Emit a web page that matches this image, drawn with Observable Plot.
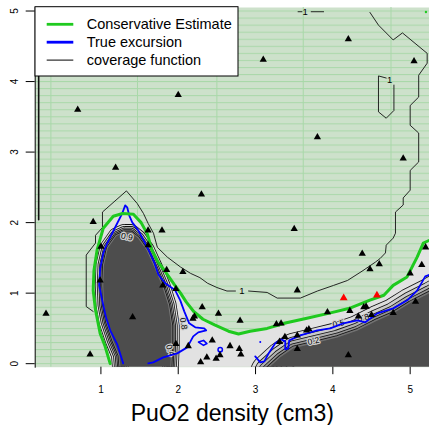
<!DOCTYPE html>
<html><head><meta charset="utf-8">
<script src="https://cdn.jsdelivr.net/npm/d3@7"></script>
<script src="https://cdn.jsdelivr.net/npm/@observablehq/plot@0.6"></script>
<style>
html,body{margin:0;padding:0;background:#fff;}
#chart{position:relative;width:429px;height:425px;overflow:hidden;}
</style></head><body><div id="chart"></div>
<script>
// ---------- data (data units) ----------
const xTicks = [1, 2, 3, 4, 5];
const yTicks = [0, 1, 2, 3, 4, 5];
const xDomain = [0.15, 5.25];
const yDomain = [-0.05, 5.05];
const xLabel = "PuO2 density (cm3)";
const legendLabels = ["Conservative Estimate", "True excursion", "coverage function"];

// vertical seams of the conservative-estimate overlay
const seamX = [0.353, 1.473, 2.50, 3.617, 4.752];
const seamRowOrigin = 5.0, seamRowStep = 0.1;

// conservative estimate boundary (green)
const conservative = [[1.12,0.0],[1.05,0.26],[0.99,0.43],[0.93,0.76],[0.90,1.04],[0.91,1.32],[0.95,1.61],[1.03,1.92],[1.16,2.09],[1.28,2.13],[1.42,2.12],[1.52,2.00],[1.60,1.84],[1.66,1.61],[1.74,1.44],[1.83,1.31],[1.95,1.12],[2.03,1.00],[2.10,0.88],[2.20,0.74],[2.32,0.63],[2.47,0.55],[2.65,0.46],[2.78,0.42],[2.93,0.46],[3.15,0.50],[3.40,0.58],[3.65,0.64],[3.97,0.72],[4.23,0.79],[4.48,0.90],[4.66,0.97],[4.78,1.11],[4.96,1.23],[5.09,1.51],[5.17,1.71],[5.25,1.75]];

// high-coverage cores
const leftCore = [[1.30,1.86],[1.20,1.81],[1.09,1.64],[1.04,1.40],[1.03,1.11],[1.04,0.83],[1.08,0.59],[1.16,0.33],[1.24,0.12],[1.27,-0.30],[1.89,-0.30],[1.91,0.26],[1.91,0.54],[1.87,0.83],[1.79,1.11],[1.69,1.37],[1.59,1.61],[1.48,1.78],[1.39,1.86]];
const rightCore = [[3.05,-0.30],[3.14,-0.09],[3.32,0.09],[3.49,0.22],[3.80,0.30],[4.06,0.37],[4.32,0.47],[4.57,0.61],[4.78,0.71],[5.00,0.86],[5.25,1.00],[5.50,1.15],[5.50,-0.30]];

// coverage function = 1 contour
const contour1a = [[0.90,0.74],[0.81,0.81],[0.81,1.54],[0.93,1.71],[0.93,1.82],[1.02,1.93],[1.02,2.15],[1.33,2.45],[1.47,2.27],[1.55,2.13],[1.61,1.99],[1.68,1.85],[1.73,1.65],[1.86,1.51],[2.03,1.37],[2.16,1.28],[2.28,1.22],[2.38,1.14],[2.50,1.08],[2.63,1.03],[2.74,1.03]];
const contour1b = [[2.91,1.03],[3.15,1.01],[3.28,0.93],[3.58,0.93],[3.80,1.03],[4.01,1.11],[4.19,1.18],[4.39,1.32],[4.55,1.44],[4.61,1.49],[4.68,1.57],[4.69,1.68],[4.78,1.78],[4.81,1.85],[4.81,2.15],[4.91,2.25],[4.91,2.35],[5.00,2.46],[5.00,2.74],[5.11,2.86],[5.11,3.27],[5.00,3.38],[5.00,3.66],[5.11,3.78],[5.11,4.09],[5.22,4.26],[5.22,4.40],[4.90,4.69],[4.78,4.59],[4.59,4.80],[4.48,4.98]];
const contourLeft = [[0.195,5.05],[0.195,2.04]];
const contourTopA = [[3.55,4.99],[3.60,4.99]];
const contourTopB = [[3.72,4.99],[3.88,4.99]];
const contourLoop = [[4.69,4.05],[4.59,4.08],[4.59,3.57],[4.69,3.48],[4.79,3.59],[4.79,3.95]];
const oneLabels = [[2.824,1.029],[3.643,4.99],[4.733,4.02]];
const levelLabels = [
  {x:1.336, y:1.80, t:"0.9", a:12},
  {x:2.069, y:0.567, t:"0.8", a:80},
  {x:1.897, y:0.19, t:"0.4", a:70},
  {x:3.75, y:0.321, t:"0.2", a:-12},
  {x:4.074, y:0.567, t:"0.5", a:-12},
  {x:4.393, y:0.65, t:"0.8", a:-14}
];

// true excursion set (blue)
const blueMain = [[1.288,0.004],[1.211,0.274],[1.12,0.473],[1.069,0.643],[1.017,0.898],[0.978,1.111],[0.991,1.352],[1.03,1.565],[1.081,1.707],[1.146,1.849],[1.211,1.991],[1.276,2.132],[1.314,2.245],[1.34,2.217],[1.366,2.103],[1.405,2.004],[1.483,1.891],[1.573,1.707],[1.638,1.565],[1.69,1.437],[1.741,1.267],[1.832,1.139],[1.961,1.04],[2.026,0.898],[2.078,0.742],[2.142,0.572],[2.22,0.515],[2.336,0.501],[2.362,0.472],[2.259,0.444],[2.194,0.387],[2.116,0.231],[1.987,0.146],[1.806,0.089],[1.677,0.018],[1.612,0.004]];
const blueRight = [[2.996,0.104],[3.061,0.018],[3.113,0.033],[3.177,0.16],[3.255,0.288],[3.332,0.345],[3.384,0.316],[3.384,0.203],[3.423,0.217],[3.436,0.33],[3.578,0.401],[3.798,0.472],[3.966,0.501],[4.134,0.572],[4.315,0.614],[4.419,0.586],[4.574,0.713],[4.781,0.784],[4.962,0.898],[5.092,1.04],[5.144,1.139],[5.195,1.238],[5.25,1.26]];
const blueDiamond = [[2.262,0.306],[2.327,0.33],[2.371,0.284],[2.327,0.26],[2.262,0.306]];
const blueRing = [[2.543,0.199]];
const blueSpeck = [[3.061,0.306]];
const greenSpeck = [[5.204,4.987]];

// design points
const samplePts = [[0.70,3.60],[2.00,3.81],[1.19,2.78],[2.30,2.40],[4.20,4.60],[3.10,4.31],[5.05,4.29],[3.80,3.21],[4.91,2.91],[3.50,1.91],[5.20,1.65],[5.15,1.40],[5.00,1.28],[4.38,1.56],[4.60,1.41],[4.48,1.34],[3.54,1.04],[5.07,0.88],[4.78,0.72],[2.31,0.80],[2.52,0.71],[2.80,0.61],[3.27,0.56],[3.33,0.57],[3.93,0.73],[4.22,0.75],[4.40,0.80],[4.43,0.81],[4.50,0.69],[4.33,0.67],[3.69,0.49],[3.66,0.47],[3.54,0.40],[3.38,0.38],[3.31,0.31],[3.54,0.21],[4.20,0.12],[2.44,0.33],[2.67,0.25],[2.79,0.21],[2.81,0.13],[2.54,0.12],[2.37,0.09],[2.29,0.02],[0.90,2.01],[1.61,1.89],[1.79,1.89],[1.00,1.66],[1.61,1.68],[1.85,1.33],[2.06,1.30],[0.99,1.18],[1.97,1.06],[1.80,1.11],[1.41,0.66],[2.21,0.67],[2.19,0.64],[1.97,0.28],[2.13,0.25],[2.49,0.07],[0.29,0.71],[0.86,0.13]];
const redPts = [[4.14,0.93],[4.57,0.97]];

// ---------- styles ----------
const FONT = "'Liberation Sans', Arial, Helvetica, sans-serif";
const GREEN = "#1fca1f", BLUE = "#0000ff";
const greenFill = "#cde1cb", seamColor = "#a9d8a9";
const innerGray = "#e2e2e2", coreGray = "#4d4d4d";
const leftRings = [[8, "#dedede"], [6, "#cccccc"], [4.3, "#b3b3b3"], [2.8, "#969696"], [1.5, "#777777"]];
const rightRings = [[15, "#dcdcdc"], [11, "#cacaca"], [7.5, "#b0b0b0"], [4.5, "#939393"], [2, "#727272"]];

const X = d => d[0], Y = d => d[1];
const fmt = d => String(d);

function ringMarks(poly, rings) {
  const closed = poly.concat([poly[0]]);
  const m = [];
  for (const [off, col] of rings) {
    m.push(Plot.line(closed, {x: X, y: Y, stroke: "#111", strokeWidth: 2 * off + 0.8, clip: true}));
    m.push(Plot.line(closed, {x: X, y: Y, stroke: col, strokeWidth: 2 * off - 0.8, clip: true}));
  }
  m.push(Plot.line(closed, {x: X, y: Y, fill: coreGray, stroke: "none", clip: true}));
  return m;
}

const innerPoly = conservative.concat([[5.5, conservative[conservative.length - 1][1]], [5.5, -0.3], [conservative[0][0], -0.3]]);

const plot = Plot.plot({
  width: 429, height: 425,
  marginLeft: 34.7, marginRight: 0, marginTop: 7, marginBottom: 58.3,
  x: {domain: xDomain},
  y: {domain: yDomain},
  style: {fontFamily: FONT, fontSize: "10px", background: "white", color: "black"},
  marks: [
    Plot.frame({fill: "url(#hatch)", stroke: "none"}),
    Plot.ruleX(seamX, {stroke: seamColor, strokeWidth: 1}),
    Plot.line(innerPoly, {x: X, y: Y, fill: innerGray, stroke: "none", clip: true}),
    ...ringMarks(leftCore, leftRings),
    ...ringMarks(rightCore, rightRings),
    Plot.text(levelLabels, {x: "x", y: "y", text: "t", rotate: "a", fontSize: 8.5, fill: "black", stroke: "#d0d0d0", strokeWidth: 2.5, clip: true}),
    Plot.line(contour1a, {x: X, y: Y, stroke: "#111", strokeWidth: 0.9, clip: true}),
    Plot.line(contour1b, {x: X, y: Y, stroke: "#111", strokeWidth: 0.9, clip: true}),
    Plot.line(contourLeft, {x: X, y: Y, stroke: "#111", strokeWidth: 1.6, clip: true}),
    Plot.line(contourTopA, {x: X, y: Y, stroke: "#111", strokeWidth: 0.9, clip: true}),
    Plot.line(contourTopB, {x: X, y: Y, stroke: "#111", strokeWidth: 0.9, clip: true}),
    Plot.line(contourLoop, {x: X, y: Y, stroke: "#111", strokeWidth: 0.9, clip: true}),
    Plot.text(oneLabels, {x: X, y: Y, text: () => "1", fontSize: 9.5, fill: "black", clip: true}),
    Plot.line(blueMain, {x: X, y: Y, stroke: BLUE, strokeWidth: 1.8, clip: true}),
    Plot.line(blueRight, {x: X, y: Y, stroke: BLUE, strokeWidth: 1.8, clip: true}),
    Plot.line(blueDiamond, {x: X, y: Y, stroke: BLUE, strokeWidth: 1.6, clip: true}),
    Plot.dot(blueRing, {x: X, y: Y, r: 2.2, stroke: BLUE, strokeWidth: 1.5, fill: "none"}),
    Plot.dot(blueSpeck, {x: X, y: Y, r: 1, fill: BLUE, stroke: "none"}),
    Plot.line(conservative, {x: X, y: Y, stroke: GREEN, strokeWidth: 3, clip: true}),
    Plot.dot(greenSpeck, {x: X, y: Y, r: 1.2, fill: GREEN, stroke: "none"}),
    Plot.dot(samplePts, {x: X, y: Y, symbol: "triangle", r: 2.7, fill: "black", stroke: "none"}),
    Plot.dot(redPts, {x: X, y: Y, symbol: "triangle", r: 2.9, fill: "#ff0000", stroke: "none"}),
    Plot.frame({anchor: "left", stroke: "black"}),
    Plot.axisX({ticks: xTicks, tickFormat: fmt, tickSize: 7.5, tickPadding: 11.2, fontSize: 10, label: null}),
    Plot.axisY({ticks: yTicks, tickFormat: fmt, tickSize: 9, tickPadding: 8.5, tickRotate: -90, fontSize: 10, label: null}),
    Plot.text([xLabel], {text: d => d, frameAnchor: "bottom", dy: 46.6, lineAnchor: "middle", fontSize: 23, fill: "black"})
  ]
});

// hatch pattern for the conservative-estimate overlay (rows follow the y scale)
const svg = d3.select(plot);
const ys = plot.scale("y");
const y0 = ys.apply(seamRowOrigin);
const step = Math.abs(ys.apply(seamRowOrigin - seamRowStep) - y0);
const defs = svg.insert("defs", ":first-child");
const pat = defs.append("pattern").attr("id", "hatch").attr("patternUnits", "userSpaceOnUse")
  .attr("x", 0).attr("y", y0 - 0.5).attr("width", 429).attr("height", step);
pat.append("rect").attr("width", 429).attr("height", step).attr("fill", greenFill);
pat.append("rect").attr("width", 429).attr("height", 1).attr("fill", seamColor);

// legend (top-left box)
const lg = svg.append("g").attr("font-family", FONT).attr("font-size", 14.5).attr("text-anchor", "start");
lg.append("rect").attr("x", 35).attr("y", 6.7).attr("width", 203).attr("height", 69.3)
  .attr("fill", "white").attr("stroke", "black").attr("stroke-width", 1);
const legendColors = [GREEN, BLUE, "black"], legendWidths = [2.8, 2.8, 1];
legendLabels.forEach((t, i) => {
  const yy = 24.3 + i * 17.9;
  lg.append("line").attr("x1", 46.7).attr("x2", 73.3).attr("y1", yy).attr("y2", yy)
    .attr("stroke", legendColors[i]).attr("stroke-width", legendWidths[i]);
  lg.append("text").attr("x", 86.7).attr("y", yy).attr("dy", "0.35em").attr("text-anchor", "start").attr("fill", "black").text(t);
});

document.getElementById("chart").appendChild(plot);
</script>
</body></html>
